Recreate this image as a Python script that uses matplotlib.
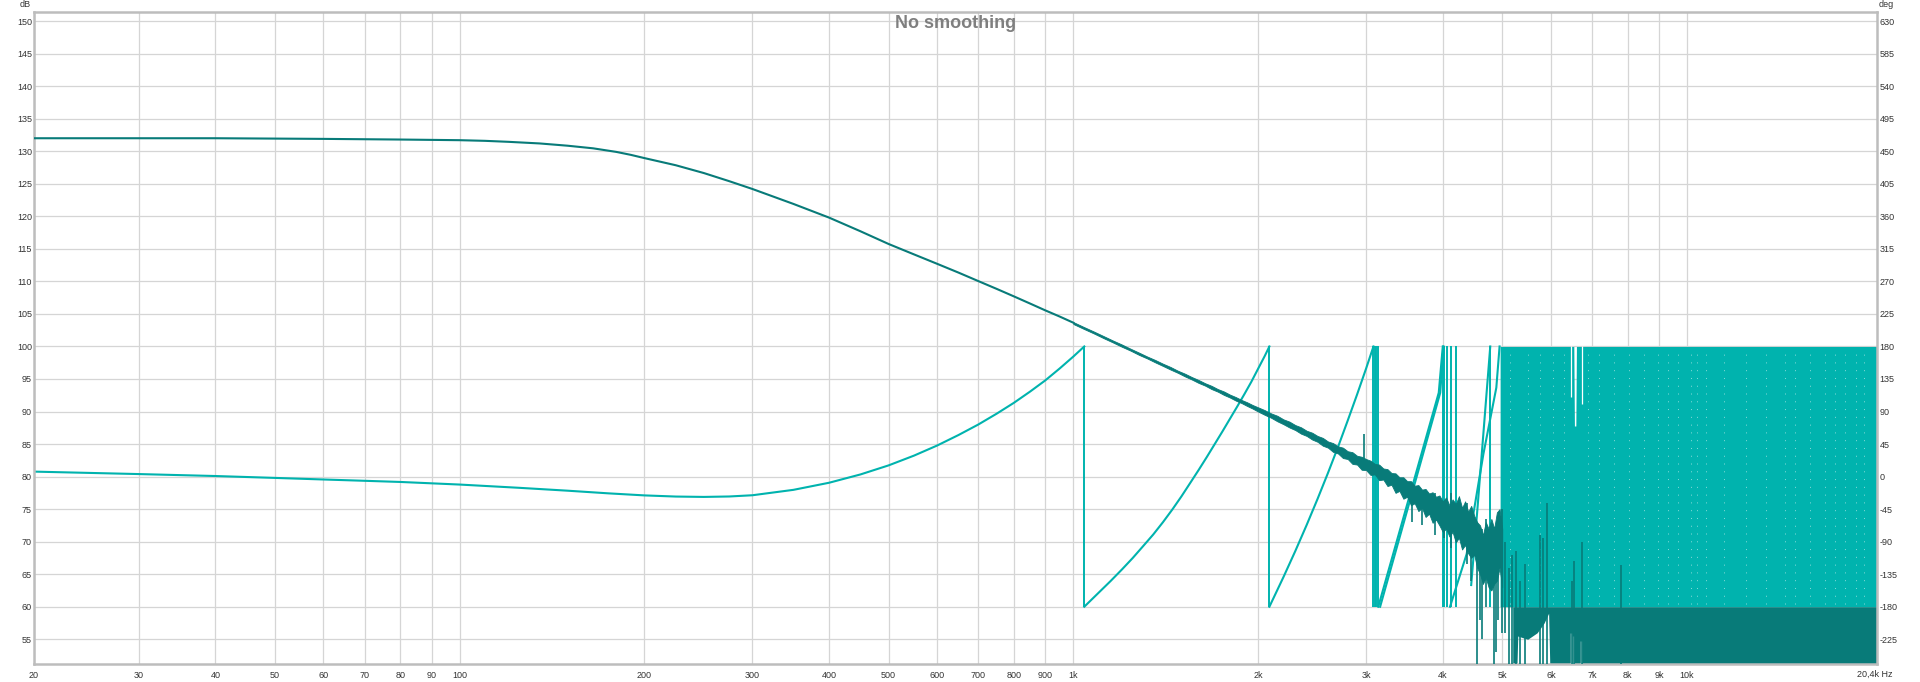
import matplotlib
matplotlib.use('Agg')
import matplotlib.pyplot as plt
from matplotlib.ticker import FixedLocator, FixedFormatter, NullLocator

# ---------------- data ----------------
# magnitude, smooth part (Hz, dB)
mag_freq = [20, 40, 60, 80, 100, 110, 120, 135, 150, 165, 180, 190, 200, 225,
            250, 275, 300, 350, 400, 450, 500, 550, 600, 650, 700, 750, 800,
            850, 900, 950, 1000]
mag_db = [132.0, 132.0, 131.9, 131.8, 131.7, 131.6, 131.45, 131.2, 130.85,
          130.45, 129.9, 129.45, 128.95, 127.85, 126.65, 125.4, 124.2, 121.9,
          119.8, 117.7, 115.75, 114.15, 112.7, 111.35, 110.05, 108.85, 107.7,
          106.6, 105.55, 104.6, 103.65]

# magnitude, noisy part drawn as a jagged band (Hz, lower dB, upper dB)
band_freq = [1000, 1040, 1080, 1120, 1160, 1200, 1240, 1280, 1320, 1360,
             1400, 1440, 1480, 1520, 1560, 1600, 1640, 1680, 1720, 1760,
             1800, 1840, 1880, 1920, 1960, 2000, 2050, 2100, 2150, 2200,
             2250, 2300, 2350, 2400, 2450, 2500, 2550, 2600, 2650, 2700,
             2750, 2800, 2850, 2900, 2950, 3000, 3050, 3100, 3150, 3200,
             3250, 3300, 3350, 3400, 3450, 3500, 3550, 3600, 3650, 3700,
             3750, 3800, 3850, 3900, 3950, 4000, 4050, 4100, 4150, 4200,
             4250, 4300, 4350, 4400, 4450, 4500, 4550, 4600, 4650, 4700,
             4750, 4800, 4850, 4900, 4950, 5000]
band_lo = [103.45, 102.70, 102.00, 101.28, 100.62, 99.95, 99.35, 98.70,
           98.15, 97.55, 97.00, 96.45, 95.95, 95.40, 94.92, 94.40, 93.98,
           93.45, 93.05, 92.55, 92.15, 91.68, 91.30, 90.85, 90.45, 90.00,
           89.50, 89.05, 88.50, 88.05, 87.55, 87.15, 86.60, 86.25, 85.70,
           85.35, 84.75, 84.45, 83.80, 83.55, 82.85, 82.70, 81.95, 81.85,
           81.05, 81.00, 80.25, 80.35, 79.45, 79.55, 78.55, 78.75, 77.50,
           77.80, 76.60, 76.90, 75.60, 75.90, 74.70, 75.20, 73.80, 74.30,
           72.90, 73.40, 72.50, 71.50, 72.00, 70.80, 71.50, 69.90, 70.60,
           68.80, 69.50, 68.20, 67.50, 68.00, 66.00, 65.00, 63.50, 64.50,
           63.00, 62.50, 63.50, 64.00, 66.00, 63.00]
band_hi = [103.75, 103.00, 102.30, 101.60, 100.92, 100.30, 99.65, 99.05,
           98.45, 97.92, 97.35, 96.85, 96.28, 95.82, 95.30, 94.85, 94.35,
           93.95, 93.45, 93.08, 92.60, 92.22, 91.78, 91.42, 91.00, 90.65,
           90.22, 89.72, 89.35, 88.80, 88.45, 87.92, 87.58, 87.05, 86.75,
           86.25, 85.95, 85.40, 85.15, 84.65, 84.45, 83.90, 83.75, 83.20,
           83.05, 82.70, 82.45, 81.95, 81.85, 81.25, 81.15, 80.55, 80.50,
           79.90, 79.90, 79.30, 79.30, 78.60, 78.70, 78.00, 78.10, 77.40,
           77.60, 76.90, 77.10, 76.20, 76.80, 75.60, 76.50, 75.80, 77.00,
           75.20, 76.20, 74.60, 75.50, 74.00, 73.00, 72.50, 71.00, 73.00,
           72.00, 73.50, 72.00, 74.50, 75.00, 72.00]

# magnitude spikes (Hz, low dB, high dB)
spike_freq = [2980, 3560, 3700, 3880, 4020, 4120, 4380, 4450, 4550, 4600,
              4640, 4700, 4850, 4880, 4930, 5000, 5050, 5120, 5180, 5260,
              5350, 5450, 5750, 5820, 5920, 6500, 6550, 6750, 7800]
spike_lo = [81.5, 73.0, 72.5, 71.0, 70.5, 69.0, 66.5, 64.0, 50.0, 58.0,
            55.0, 60.0, 50.0, 53.0, 58.0, 56.0, 56.0, 50.0, 50.0, 50.0,
            50.0, 50.0, 50.0, 50.0, 50.0, 50.0, 50.0, 50.0, 50.0]
spike_hi = [86.6, 78.5, 77.0, 77.5, 76.0, 77.5, 76.0, 74.0, 73.0, 71.5,
            72.0, 73.5, 72.0, 70.0, 74.0, 75.0, 70.0, 66.0, 68.0, 68.5,
            64.0, 66.5, 71.0, 70.5, 76.0, 64.0, 67.0, 70.0, 66.4]

# magnitude noise floor above 5.2 kHz (Hz, lower dB, upper dB)
floor_freq = [5200, 5280, 5300, 5500, 5700, 5850, 5950, 5980, 20400]
floor_lo = [50.0, 50.0, 55.5, 55.0, 56.0, 57.5, 59.0, 50.0, 50.0]
floor_hi = [60.0, 60.0, 60.0, 60.0, 60.0, 60.0, 60.0, 60.0, 60.0]

# white gaps inside the floor (Hz, top dB)
gap_freq = [6480, 6520, 6720]
gap_hi = [56.0, 55.5, 54.8]

# phase ramps (Hz, degrees)
ph1_freq = [20, 30, 40, 50, 60, 70, 80, 100, 125, 150, 175, 200, 225, 250,
            275, 300, 350, 400, 450, 500, 550, 600, 650, 700, 750, 800, 850,
            900, 950, 1000, 1042]
ph1_deg = [7, 3.5, 0.8, -1.8, -4, -5.8, -7.4, -11, -15.5, -19.5, -23.2, -26,
           -27.6, -28.1, -27.5, -25.8, -18.3, -8.5, 3, 15.5, 29, 43, 57.5, 72,
           87, 102, 117.5, 133, 149.5, 166, 180]
ph2_freq = [1042, 1100, 1150, 1200, 1250, 1300, 1350, 1400, 1450, 1500, 1550,
            1600, 1650, 1700, 1750, 1800, 1850, 1900, 1950, 2000, 2050, 2087]
ph2_deg = [-180, -160.5, -144.5, -128.5, -112.5, -96, -80, -63, -45.5, -27.5,
           -9, 9, 27, 45, 62.5, 80, 97, 114, 131, 149, 166.5, 180]
ph3_freq = [2087, 2200, 2300, 2400, 2500, 2600, 2700, 2800, 2900, 3000, 3084]
ph3_deg = [-180, -139, -103, -67, -31, 5, 41, 77.5, 113.5, 149.5, 180]
ph4_freq = [3140, 3940, 4000]
ph4_deg = [-180, 116, 180]
ph4b_freq = [3162, 3962, 4012]
ph4b_deg = [-180, 116, 180]
ph5_freq = [4110, 4375, 4658, 4890, 4950]
ph5_deg = [-180, -107, 31, 123, 180]
ph5b_freq = [4450, 4560, 4780]
ph5b_deg = [-150, -40, 180]

# phase wrap lines (Hz)
wrap_freq = [1042, 2087, 3084, 3098, 3118, 3135, 4000, 4025, 4060, 4120,
             4200, 4780]

# dense phase region (Hz, upper deg)
phfill_freq = [4960, 6540, 6555, 6590, 6605, 20400]
phfill_top = [180, 180, 70, 70, 180, 180]
# thin white gaps from the top of the dense region (Hz, lower deg)
phgap_freq = [6480, 6750]
phgap_lo = [110, 100]

# columns of white specks in the dense phase region (Hz)
speck_freq = [5150, 5500, 5750, 6060, 6300, 6900, 7200, 7600, 8030, 8500,
              8960, 9300, 9660, 10150, 10400, 10740, 11500, 12490, 13450,
              14450, 14990, 15870, 16800, 17400, 18100, 18850, 19450]

# axis ticks
x_ticks = [20, 30, 40, 50, 60, 70, 80, 90, 100, 200, 300, 400, 500, 600,
           700, 800, 900, 1000, 2000, 3000, 4000, 5000, 6000, 7000, 8000,
           9000, 10000]
x_labels = ['20', '30', '40', '50', '60', '70', '80', '90', '100', '200',
            '300', '400', '500', '600', '700', '800', '900', '1k', '2k', '3k',
            '4k', '5k', '6k', '7k', '8k', '9k', '10k']
db_ticks = list(range(55, 151, 5))
deg_ticks = list(range(-225, 631, 45))

# ---------------- styling ----------------
DARK = '#087b79'
LIGHT = '#00b3ae'
GRID = '#d5d5d5'
SPINE = '#bdbdbd'
TXT = '#333333'
FONT = 'Liberation Sans'
FS = 6.5

plt.rcParams['font.family'] = [FONT, 'DejaVu Sans']

W, H = 1920, 682
fig = plt.figure(figsize=(W / 100, H / 100), dpi=100)
fig.patch.set_facecolor('white')
left, right, top, bottom = 34, 1877, 12, 664
pos = [left / W, (H - bottom) / H, (right - left) / W, (bottom - top) / H]

XMIN, XMAX = 20.25, 20400
DB_LIM = (51.2, 151.4)
DEG_LIM = ((DB_LIM[0] - 80) * 9, (DB_LIM[1] - 80) * 9)

# phase axes (bottom layer, carries grid)
axp = fig.add_axes(pos)
axp.set_xscale('log')
axp.set_xlim(XMIN, XMAX)
axp.set_ylim(*DEG_LIM)
axm = fig.add_axes(pos, sharex=axp)
axm.set_ylim(*DB_LIM)

tick_pos = [XMIN if t == 20 else t for t in x_ticks]
axp.xaxis.set_major_locator(FixedLocator(tick_pos))
axp.xaxis.set_major_formatter(FixedFormatter(x_labels))
axp.xaxis.set_minor_locator(NullLocator())

axp.set_yticks(deg_ticks)
axp.yaxis.tick_right()
axp.set_yticklabels([str(d) for d in deg_ticks])
axp.grid(True, color=GRID, lw=0.9)
axp.set_axisbelow(True)
axp.tick_params(axis='x', labelbottom=False, length=0)
axp.tick_params(axis='y', length=0, pad=2, labelsize=FS, labelcolor=TXT)
for s in axp.spines.values():
    s.set_visible(False)

# phase drawing
axp.fill_between(phfill_freq, [-180] * len(phfill_freq), phfill_top,
                 color=LIGHT, lw=0, zorder=2)
axp.vlines(phgap_freq, phgap_lo, 180, colors='white', lw=0.9, zorder=3)
axp.vlines(speck_freq, -176, 176, colors='white', lw=0.7,
           linestyles=(0, (1, 7)), alpha=0.55, zorder=3)
for fx, dy in [(ph1_freq, ph1_deg), (ph2_freq, ph2_deg), (ph3_freq, ph3_deg),
               (ph4_freq, ph4_deg), (ph4b_freq, ph4b_deg),
               (ph5_freq, ph5_deg), (ph5b_freq, ph5b_deg)]:
    axp.plot(fx, dy, color=LIGHT, lw=1.5, solid_joinstyle='round', zorder=4)
axp.vlines(wrap_freq, -180, 180, colors=LIGHT, lw=1.4, zorder=4)

# magnitude axes (top layer, transparent)
axm.patch.set_visible(False)
axm.set_yticks(db_ticks)
axm.set_yticklabels([str(d) for d in db_ticks])
axm.tick_params(axis='y', length=0, pad=1.5, labelsize=FS, labelcolor=TXT)
axm.tick_params(axis='x', length=0, pad=5, labelsize=FS, labelcolor=TXT)
axm.grid(False)
for s in axm.spines.values():
    s.set_color(SPINE)
    s.set_linewidth(1.8)

axm.fill_between(floor_freq, floor_lo, floor_hi, color=DARK, lw=0, zorder=2)
axm.vlines(gap_freq, 50, gap_hi, colors='white', lw=1.0, zorder=3)
axm.vlines(spike_freq, spike_lo, spike_hi, colors=DARK, lw=1.2, zorder=4)
axm.fill_between(band_freq, band_lo, band_hi, color=DARK, lw=0.6,
                 edgecolor=DARK, zorder=5)
axm.plot(mag_freq, mag_db, color=DARK, lw=1.5, zorder=5)

# texts
axm.text(0.5, (bottom - 23) / (bottom - top), 'No smoothing',
         transform=axm.transAxes, ha='center', va='center',
         fontsize=13, fontweight='bold', color='#7f7f7f')
fig.text(24.7 / W, 1 - 4.5 / H, 'dB', ha='center', va='center',
         fontsize=FS, color=TXT)
fig.text(1886 / W, 1 - 4.5 / H, 'deg', ha='center', va='center',
         fontsize=FS, color=TXT)
fig.text(1857 / W, 1 - 674.4 / H, '20,4k Hz', ha='left', va='center',
         fontsize=FS, color=TXT)

fig.savefig('out.png', dpi=100, facecolor='white')
